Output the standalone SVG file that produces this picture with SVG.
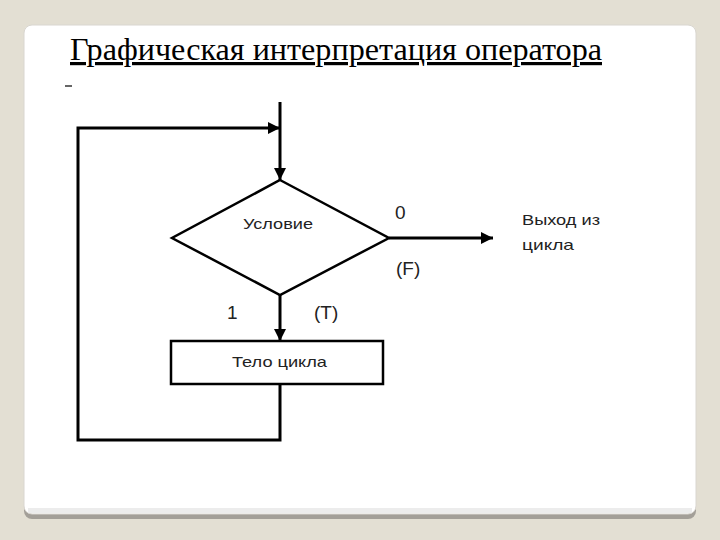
<svg xmlns="http://www.w3.org/2000/svg" width="720" height="540" viewBox="0 0 720 540">
<defs>
<marker id="ah" viewBox="0 0 10 10" refX="10" refY="5" markerWidth="13" markerHeight="12" markerUnits="userSpaceOnUse" orient="auto">
<path d="M0,0 L10,5 L0,10 z" fill="#000"/>
</marker>
</defs>
<style>
.ln{fill:none;stroke:#000;stroke-width:3}
.shape{fill:#fff;stroke:#000;stroke-width:2.5}
.lbl{font-family:"Liberation Sans",Arial,sans-serif;fill:#222}
</style>
<rect width="720" height="540" fill="#e3dfd3"/>
<rect x="24" y="28" width="672" height="491" rx="8" fill="#a39f98"/>
<rect x="24" y="25" width="672" height="489" rx="8" fill="#fff" stroke="#d9d6d0" stroke-width="1"/>
<rect x="28" y="508" width="664" height="5" fill="#ececec"/>
<text x="70" y="60" font-family="'Liberation Serif','Times New Roman',serif" font-size="32" fill="#000" text-decoration="underline" textLength="532" lengthAdjust="spacingAndGlyphs">Графическая интерпретация оператора</text>
<line x1="65" y1="86" x2="72" y2="86" stroke="#333" stroke-width="1.5"/>
<g id="connectors">
<line class="ln" x1="280" y1="102" x2="280" y2="180" marker-end="url(#ah)"/>
<line class="ln" x1="389" y1="238" x2="493" y2="238" marker-end="url(#ah)"/>
<line class="ln" x1="280" y1="295" x2="280" y2="341" marker-end="url(#ah)"/>
<polyline class="ln" points="280,384 280,440 78,440 78,128 280,128" marker-end="url(#ah)"/>
</g>
<g id="condition">
<polygon class="shape" points="280,180 389,238 280,295 172,238"/>
<text class="lbl" x="243" y="229" font-size="15" textLength="70" lengthAdjust="spacingAndGlyphs">Условие</text>
</g>
<g id="body">
<rect class="shape" x="171" y="341" width="212" height="43"/>
<text class="lbl" x="232" y="367" font-size="15" textLength="95" lengthAdjust="spacingAndGlyphs">Тело цикла</text>
</g>
<g id="labels">
<text class="lbl" x="395" y="219" font-size="19">0</text>
<text class="lbl" x="396" y="275" font-size="19">(F)</text>
<text class="lbl" x="227" y="319" font-size="19">1</text>
<text class="lbl" x="314" y="319" font-size="19">(T)</text>
</g>
<g id="exit">
<text class="lbl" x="522" y="225" font-size="15" textLength="78" lengthAdjust="spacingAndGlyphs">Выход из</text>
<text class="lbl" x="522" y="250" font-size="15" textLength="52" lengthAdjust="spacingAndGlyphs">цикла</text>
</g>
</svg>
